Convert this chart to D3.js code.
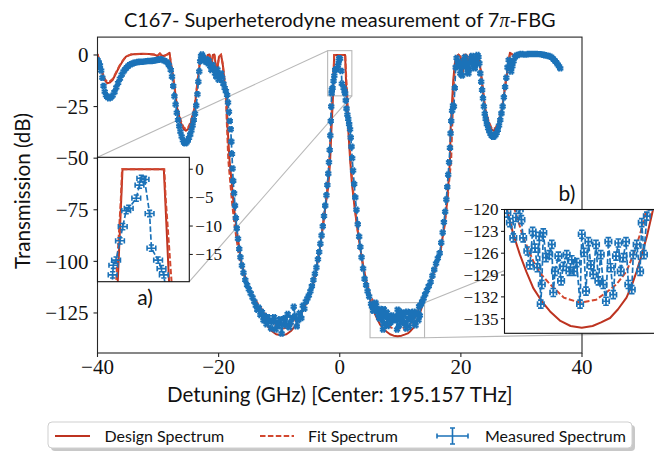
<!DOCTYPE html>
<html><head><meta charset="utf-8">
<script src="https://cdn.jsdelivr.net/npm/d3@7"></script>
<style>body{margin:0;background:#fff}svg{display:block}</style>
</head><body>
<svg id="c" width="654" height="451"></svg>
<script>
// ---------------- DATA ----------------
const design = [
[-40,0.5],[-39.6,-4],[-39.2,-8.9],[-38.8,-12.2],[-38.4,-13.7],[-38.0,-13.4],[-37.5,-12.1],[-37.0,-9.2],[-36.4,-5.7],[-35.8,-2.8],[-35.3,-0.8],[-34.5,0.2],[-33.6,0.5],[-32.5,0.6],[-31.5,0.5],[-30.6,0.2],[-30.1,-0.5],[-29.7,0.8],[-29.4,-0.3],[-29.0,-0.5],[-28.5,0.3],[-28.1,1.1],[-27.9,-4],[-27.6,-9.5],[-27.3,-15.4],[-26.8,-26.6],[-26.2,-33],[-25.8,-35.8],[-25.4,-36.7],[-25.0,-35.8],[-24.6,-33],[-24.0,-26.6],[-23.5,-13.7],[-23.2,-6],[-22.9,0],[-22.5,0.3],[-22.1,-4],[-21.8,0],[-21.5,0.2],[-21.2,-5.7],[-20.95,0],[-20.7,0.2],[-20.3,-8.9],[-19.95,-1],[-19.6,0.2],[-19.3,-5],[-19.0,-13.7],[-18.7,-20],[-18.5,-36],[-18.2,-51],[-17.9,-60],[-17.6,-70],[-17.1,-83],[-16.3,-99.3],[-15.5,-109],[-14.9,-114],[-14.2,-118.5],[-13.5,-122],[-12.8,-126.5],[-12.1,-130.8],[-11.3,-133.6],[-10.5,-135.3],[-9.65,-135.8],[-8.8,-135.3],[-8.0,-133.6],[-7.2,-130.8],[-6.5,-126.5],[-5.8,-122],[-5.0,-117],[-4.5,-111.5],[-3.9,-104],[-3.3,-94],[-2.8,-83],[-2.3,-72],[-1.9,-63.8],[-1.6,-52],[-1.4,-38],[-1.12,-20],[-0.91,0],[0.89,0],[1.12,-20],[1.4,-36],[1.7,-50],[2.0,-62],[2.4,-72.5],[2.8,-82],[3.3,-92],[3.9,-103],[4.5,-111],[4.9,-116.5],[5.17,-120.2],[5.52,-123.4],[5.91,-126.2],[6.3,-128.6],[6.7,-130.8],[7.2,-132.6],[7.69,-134],[8.3,-135.3],[8.9,-136],[9.56,-136.25],[10.2,-136],[10.7,-135.5],[11.23,-134.9],[11.7,-133.7],[12.2,-132.1],[12.5,-130.5],[12.8,-128.5],[13.1,-126.2],[13.4,-123.7],[13.7,-120.7],[13.95,-118],[14.9,-110.6],[15.8,-103],[16.6,-96],[17.2,-84],[17.7,-72],[18.0,-60],[18.2,-51],[18.3,-36.3],[18.5,-25],[18.75,-12.1],[19.0,-4],[19.3,-0.8],[19.6,0.2],[19.95,-1],[20.3,-8.9],[20.7,0.2],[20.95,0],[21.2,-5.7],[21.5,0.2],[21.8,0],[22.1,-4],[22.5,0.3],[22.9,0],[23.2,-6],[23.5,-13.7],[24.0,-26.6],[24.6,-33],[25.0,-35.8],[25.4,-36.7],[25.8,-35.8],[26.2,-33],[26.8,-26.6],[27.3,-15.4],[27.6,-9.5],[27.9,-4],[28.1,1.1],[28.5,0.3],[29.0,-0.5],[29.4,-0.3],[29.7,0.8],[30.1,-0.5],[30.6,0.2],[31.5,0.5],[32.5,0.6],[33.6,0.5],[34.5,0],[35.0,-0.8],[35.6,-3],[36.0,-4.8],[36.5,-6.5]
];
const fit = [
[-40,0.3],[-39.6,-3.6],[-39.2,-8.3],[-38.8,-11.6],[-38.4,-13.1],[-38.0,-12.9],[-37.5,-11.6],[-37.0,-8.8],[-36.4,-5.4],[-35.8,-2.6],[-35.3,-0.7],[-34.5,0.2],[-33.6,0.4],[-32.5,0.5],[-31.5,0.4],[-30.6,0.1],[-30.1,-0.5],[-29.7,0.6],[-29.4,-0.3],[-29.0,-0.4],[-28.5,0.2],[-28.1,0.9],[-27.9,-3.6],[-27.6,-9],[-27.3,-14.8],[-26.8,-25.8],[-26.2,-32.2],[-25.8,-35],[-25.4,-35.9],[-25.0,-35],[-24.6,-32.2],[-24.0,-25.8],[-23.5,-13],[-23.2,-5.5],[-22.9,0],[-22.5,0.2],[-22.1,-3.6],[-21.8,0],[-21.5,0.1],[-21.2,-5.2],[-20.95,0],[-20.7,0.1],[-20.3,-8.2],[-19.95,-0.9],[-19.6,0.1],[-19.3,-4.6],[-19.0,-13],[-18.8,-21],[-18.6,-36],[-18.4,-51],[-18.1,-61],[-17.8,-71],[-17.35,-83],[-16.6,-98],[-15.8,-108],[-15.0,-113.8],[-14.1,-118],[-13.2,-121.8],[-12.3,-125.5],[-11.4,-128.8],[-10.5,-131.2],[-9.6,-132.6],[-8.7,-132.2],[-7.9,-130.6],[-7.1,-128],[-6.3,-124.5],[-5.6,-120.5],[-4.9,-116],[-4.2,-109],[-3.5,-98],[-3.0,-88],[-2.5,-76],[-2.1,-66],[-1.75,-53],[-1.5,-38],[-1.19,-20],[-0.98,-5],[-0.93,0],[0.91,0],[0.97,-5],[1.23,-20],[1.52,-37],[1.8,-52],[2.15,-64],[2.55,-75],[3.05,-87],[3.55,-97],[4.25,-108],[4.95,-115.5],[5.6,-120],[6.1,-123.8],[6.7,-127.1],[7.2,-129],[7.7,-130.3],[8.5,-132.1],[9.46,-132.8],[10.4,-132.4],[11.0,-131.4],[11.6,-130.3],[12.2,-128.5],[12.6,-126.2],[13.0,-123.4],[13.3,-120.7],[13.6,-118.2],[14.2,-114.5],[15.0,-109.5],[15.9,-102],[16.7,-94],[17.3,-83],[17.8,-70],[18.1,-60],[18.4,-51],[18.55,-36],[18.7,-24],[18.85,-13],[19.05,-4],[19.3,-0.6],[19.6,0.1],[19.95,-0.9],[20.3,-8.2],[20.7,0.1],[20.95,0],[21.2,-5.2],[21.5,0.1],[21.8,0],[22.1,-3.6],[22.5,0.2],[22.9,0],[23.2,-5.5],[23.5,-13],[24.0,-25.8],[24.6,-32.2],[25.0,-35],[25.4,-35.9],[25.8,-35],[26.2,-32.2],[26.8,-25.8],[27.3,-14.8],[27.6,-9],[27.9,-3.6],[28.1,0.9],[28.5,0.2],[29.0,-0.4],[29.4,-0.3],[29.7,0.6],[30.1,-0.5],[30.6,0.1],[31.5,0.4],[32.5,0.5],[33.6,0.4],[34.5,0],[35.0,-0.8],[35.6,-2.9],[36.0,-4.7],[36.5,-6.4]
];
const measured = [
[-40.0,-2.5],[-39.8,-3.5],[-39.6,-5],[-39.4,-7.5],[-39.2,-11],[-39.0,-15],[-38.8,-17.8],[-38.6,-19.5],[-38.4,-20.4],[-38.1,-21],[-37.8,-20.6],[-37.5,-19.6],[-37.2,-18],[-36.9,-15.8],[-36.6,-13.6],[-36.3,-11.5],[-36.0,-9.6],[-35.7,-8],[-35.4,-6.8],[-35.1,-5.8],[-34.8,-5],[-34.5,-4.5],[-34.2,-4.1],[-33.9,-3.8],[-33.6,-3.6],[-33.3,-3.4],[-33.0,-3.3],[-32.7,-3.3],[-32.4,-3.2],[-32.1,-3.1],[-31.8,-3.0],[-31.5,-2.9],[-31.2,-2.9],[-30.9,-2.8],[-30.6,-2.7],[-30.3,-2.5],[-30.0,-2.3],[-29.7,-2.1],[-29.4,-2.2],[-29.1,-2.6],[-28.8,-3.0],[-28.5,-3.6],[-28.2,-5],[-27.9,-7.3],[-27.7,-10.5],[-27.5,-15],[-27.3,-20],[-27.1,-24],[-26.9,-28],[-26.7,-31.5],[-26.5,-34.5],[-26.3,-37.2],[-26.1,-39.5],[-25.9,-41.3],[-25.7,-42.5],[-25.5,-42.8],[-25.3,-42.4],[-25.1,-41.5],[-24.9,-40.2],[-24.7,-38.6],[-24.5,-36.6],[-24.3,-34.2],[-24.1,-31.5],[-23.9,-28.5],[-23.7,-24.5],[-23.5,-19],[-23.35,-13],[-23.2,-8],[-23.05,-3],[-22.9,-0.5],[-22.75,0.2],[-22.6,-0.8],[-22.4,-2.4],[-22.2,-3.2],[-22.0,-2],[-21.8,-4],[-21.6,-2.8],[-21.4,-5.5],[-21.2,-7.3],[-21.0,-4.8],[-20.8,-6.5],[-20.6,-9],[-20.4,-10.5],[-20.2,-7],[-20.0,-12],[-19.8,-10],[-19.6,-8.9],[-19.4,-11],[-19.2,-14],[-19.0,-16],[-18.8,-17.5],[-18.6,-19.4],[-18.45,-23],[-18.3,-27.5],[-18.15,-32],[-18.0,-36],[-17.9,-42],[-17.8,-48],[-17.7,-55],[-17.6,-61],[-17.45,-67],[-17.3,-73],[-17.15,-79],[-17.0,-84],[-16.8,-89],[-16.6,-94],[-16.4,-98],[-16.15,-102],[-15.9,-105.5],[-15.6,-109],[-15.3,-111.5],[-15.0,-113.5],[-14.7,-115.5],[-14.4,-117.5],[-14.1,-119.5],[-13.85,-121.5],[-13.6,-123.5],[-13.35,-122.5],[-13.1,-126],[-12.85,-124.5],[-12.6,-128.5],[-12.35,-126.5],[-12.1,-130.5],[-11.85,-127],[-11.6,-129],[-11.35,-132.5],[-11.1,-129.5],[-10.85,-127],[-10.6,-133],[-10.35,-129.5],[-10.1,-131.5],[-9.85,-128],[-9.6,-135],[-9.35,-130.5],[-9.1,-127.5],[-8.85,-131],[-8.6,-125.5],[-8.35,-132],[-8.1,-129.5],[-7.85,-127.5],[-7.6,-122],[-7.35,-126.5],[-7.1,-131.5],[-6.85,-128.5],[-6.6,-125],[-6.35,-127.5],[-6.1,-121.5],[-5.85,-123],[-5.6,-119.5],[-5.35,-118],[-5.1,-116.5],[-4.85,-114.5],[-4.6,-112],[-4.35,-109],[-4.1,-106],[-3.85,-103],[-3.6,-99],[-3.4,-95.5],[-3.2,-91.5],[-3.0,-87.5],[-2.8,-83],[-2.6,-78],[-2.4,-73],[-2.2,-68],[-2.05,-63],[-1.9,-57.5],[-1.78,-52],[-1.66,-46],[-1.56,-39],[-1.48,-32],[-1.41,-25],[-1.34,-18.6],[-1.31,-16.9],[-1.19,-16],[-1.02,-12.6],[-0.9,-10.1],[-0.75,-7.3],[-0.64,-6.9],[-0.31,-5.1],[-0.17,-2.8],[-0.09,-1.6],[0.05,-1.8],[0.27,-7.8],[0.35,-13.9],[0.64,-16],[0.79,-17.5],[0.89,-18.6],[1.0,-22],[1.12,-26],[1.26,-29],[1.4,-31],[1.55,-33.5],[1.7,-36],[1.82,-40],[1.94,-44.4],[2.05,-50],[2.2,-56],[2.38,-62.5],[2.56,-69],[2.76,-75],[2.98,-82],[3.2,-88],[3.4,-93],[3.6,-98],[3.85,-103.5],[4.1,-108.5],[4.35,-111.5],[4.6,-114.5],[4.85,-117],
[5.17,-120.5],[5.32,-121.8],[5.52,-123.9],[5.68,-121.1],[5.9,-120],[6.0,-121.4],[6.1,-123.9],[6.35,-125.7],[6.5,-127.6],[6.66,-123],[6.8,-125.3],[6.94,-128],[7.05,-123.7],[7.14,-133],[7.2,-130.3],[7.29,-123.2],[7.45,-126.6],[7.64,-126.2],[7.79,-124.8],[7.88,-131.4],[7.98,-128.5],[8.18,-126.4],[8.34,-129.8],[8.47,-127.8],[8.67,-126.2],[8.83,-128.5],[8.97,-126.9],[9.1,-128.5],[9.26,-127.3],[9.46,-133],[9.56,-123.4],[9.69,-125.9],[9.81,-131.2],[9.95,-124.4],[10.09,-127.6],[10.24,-128.9],[10.4,-124.8],[10.54,-129.8],[10.68,-126.2],[10.83,-130.3],[10.99,-132.6],[11.13,-124.4],[11.27,-128],[11.42,-131.7],[11.58,-126.4],[11.72,-124.6],[11.86,-128.5],[12.01,-126.6],[12.17,-124.4],[12.31,-130.3],[12.51,-131],[12.6,-126.2],[12.8,-124.8],[13.0,-128.5],[13.1,-121.8],[13.23,-126.2],[13.4,-120.9],
[13.6,-119.5],[13.85,-118],[14.1,-116],[14.4,-114],[14.7,-112],[15.0,-110],[15.3,-107],[15.6,-104],[15.9,-101],[16.2,-98.5],[16.5,-96],[16.75,-91],[17.0,-86],[17.2,-81],[17.4,-76],[17.6,-70],[17.75,-64],[17.9,-58],[18.05,-52],[18.2,-45],[18.3,-38],[18.4,-32],[18.55,-27],[18.7,-24.5],[18.85,-25],[19.0,-16],[19.15,-6],[19.3,-1.5],[19.45,-3],[19.6,-6],[19.75,-4],[19.9,-9],[20.05,-6],[20.2,-10],[20.35,-5],[20.5,-2.5],[20.65,-1],[20.8,-3.5],[20.95,-6],[21.1,-8.5],[21.25,-9],[21.4,-7],[21.55,-4],[21.7,-1.5],[21.85,-0.5],[22.0,-2.5],[22.15,-5],[22.3,-6.5],[22.45,-4],[22.6,-1.5],[22.75,0],[22.9,-1],[23.05,-4],[23.2,-8.9],[23.35,-13],[23.5,-17],[23.65,-21],[23.8,-25],[23.95,-28.5],[24.1,-31],[24.3,-33.5],[24.5,-35.5],[24.7,-37],[24.9,-38.3],[25.1,-39.2],[25.3,-39.6],[25.5,-39.5],[25.7,-38.9],[25.9,-37.8],[26.1,-36.3],[26.3,-34.2],[26.5,-31.5],[26.7,-28.3],[26.9,-25],[27.1,-20.5],[27.3,-15.5],[27.5,-11],[27.7,-6],[27.9,-2.4],[28.1,-4.5],[28.3,-8],[28.5,-5.5],[28.7,-3],[28.9,-1.2],[29.1,-0.4],[29.4,0],[29.7,0.3],[30.0,0.5],[30.3,0.3],[30.6,0.2],[30.9,0.3],[31.2,0.5],[31.5,0.5],[31.8,0.4],[32.1,0.5],[32.4,0.5],[32.7,0.4],[33.0,0.4],[33.3,0.3],[33.6,0.1],[33.9,-0.1],[34.2,-0.3],[34.5,-0.5],[34.8,-0.8],[35.1,-1.5],[35.4,-2.4],[35.7,-3.4],[36.0,-4.6],[36.2,-5.5],[36.4,-6.5]
];
const xErr = 0.19;   // GHz
const yErr = 0.55;   // dB
const xLim = [-40, 40];
const yLim = [-144.4, 8.66];
const xTicks = [-40, -20, 0, 20, 40];
const yTicks = [0, -25, -50, -75, -100, -125];
const insetAX = [-2, 2], insetAY = [-19.8, 2.1];
const insetATicks = [0, -5, -10, -15];
const insetBX = [5, 14], insetBY = [-137, -120];
const insetBTicks = [-120, -123, -126, -129, -132, -135];
const titleText = "C167- Superheterodyne measurement of 7";
const xLabel = "Detuning (GHz) [Center: 195.157 THz]";
const yLabel = "Transmission (dB)";
const legendLabels = ["Design Spectrum", "Fit Spectrum", "Measured Spectrum"];

// ---------------- STYLE ----------------
const C_DES = "#bd3320", C_FIT = "#d2472f", C_MEAS = "#1b72b8", C_GRAY = "#b8b8b8";
const SANS = "Lato, 'DejaVu Sans', sans-serif";
const SERIF = "'Liberation Serif', 'DejaVu Serif', serif";
const fmt = d => d < 0 ? "\u2212" + Math.abs(d) : String(d);

const svg = d3.select("#c");
svg.append("rect").attr("width", 654).attr("height", 451).attr("fill", "#fff");
const defs = svg.append("defs");

const M = {l: 97.5, r: 582, t: 37.1, b: 353};
const x = d3.scaleLinear().domain(xLim).range([M.l, M.r]);
const y = d3.scaleLinear().domain(yLim).range([M.b, M.t]);

const A = {l: 97.5, r: 189.3, t: 157.3, b: 281.7};
const xa = d3.scaleLinear().domain(insetAX).range([A.l, A.r]);
const ya = d3.scaleLinear().domain(insetAY).range([A.b, A.t]);

const B = {l: 504.5, r: 657, t: 209.5, b: 333.3};
const xb = d3.scaleLinear().domain(insetBX).range([B.l, B.r]);
const yb = d3.scaleLinear().domain(insetBY).range([B.b, B.t]);

function clip(id, R) {
  defs.append("clipPath").attr("id", id).append("rect")
    .attr("x", R.l).attr("y", R.t).attr("width", R.r - R.l).attr("height", R.b - R.t);
}
clip("cm", M); clip("ca", A); clip("cb", B);

function errPath(pts, sx, sy, cap) {
  const p = d3.path();
  for (const [a, b] of pts) {
    const x0 = sx(a - xErr), x1 = sx(a + xErr), xc = sx(a), yc = sy(b), y0 = sy(b - yErr), y1 = sy(b + yErr);
    p.moveTo(x0, yc); p.lineTo(x1, yc);
    p.moveTo(x0, yc - cap); p.lineTo(x0, yc + cap);
    p.moveTo(x1, yc - cap); p.lineTo(x1, yc + cap);
    p.moveTo(xc, y0); p.lineTo(xc, y1);
    p.moveTo(xc - cap, y0); p.lineTo(xc + cap, y0);
    p.moveTo(xc - cap, y1); p.lineTo(xc + cap, y1);
  }
  return p.toString();
}

function drawData(g, sx, sy, cap, ew) {
  const line = d3.line().x(d => sx(d[0])).y(d => sy(d[1]));
  g.append("path").attr("d", line(design)).attr("fill", "none").attr("stroke", C_DES).attr("stroke-width", 2).attr("stroke-linejoin", "round");
  g.append("path").attr("d", line(fit)).attr("fill", "none").attr("stroke", C_FIT).attr("stroke-width", 2).attr("stroke-dasharray", "5.5,2.4");
  g.append("path").attr("d", line(measured)).attr("fill", "none").attr("stroke", C_MEAS).attr("stroke-width", 1.7).attr("stroke-dasharray", "5.5,2.4");
  g.append("path").attr("d", errPath(measured, sx, sy, cap)).attr("fill", "none").attr("stroke", C_MEAS).attr("stroke-width", ew);
}

// ---------------- MAIN AXES ----------------
const gm = svg.append("g");
const gz = gm.append("g").attr("stroke", C_GRAY).attr("stroke-width", 1.1).attr("fill", "none");
gz.append("rect").attr("x", x(insetAX[0])).attr("y", y(insetAY[1])).attr("width", x(insetAX[1]) - x(insetAX[0])).attr("height", y(insetAY[0]) - y(insetAY[1]));
gz.append("line").attr("x1", A.l).attr("y1", A.t).attr("x2", x(insetAX[0])).attr("y2", y(insetAY[1]));
gz.append("line").attr("x1", A.r).attr("y1", A.b).attr("x2", x(insetAX[1])).attr("y2", y(insetAY[0]));
gz.append("rect").attr("x", x(insetBX[0])).attr("y", y(insetBY[1])).attr("width", x(insetBX[1]) - x(insetBX[0])).attr("height", y(insetBY[0]) - y(insetBY[1]));
gz.append("line").attr("x1", x(insetBX[1])).attr("y1", y(insetBY[1])).attr("x2", B.r).attr("y2", B.t);
gz.append("line").attr("x1", x(insetBX[1])).attr("y1", y(insetBY[0])).attr("x2", B.r).attr("y2", B.b);

drawData(gm.append("g").attr("clip-path", "url(#cm)"), x, y, 3.2, 1.8);

gm.append("rect").attr("x", M.l).attr("y", M.t).attr("width", M.r - M.l).attr("height", M.b - M.t)
  .attr("fill", "none").attr("stroke", "#262626").attr("stroke-width", 1.1);
const gxt = gm.append("g");
xTicks.forEach(t => {
  gxt.append("line").attr("x1", x(t)).attr("x2", x(t)).attr("y1", M.b).attr("y2", M.b + 4).attr("stroke", "#262626").attr("stroke-width", 1.1);
  gxt.append("text").attr("x", x(t)).attr("y", M.b + 21).attr("text-anchor", "middle")
    .attr("font-family", SERIF).attr("font-size", 21).attr("fill", "#111").text(fmt(t));
});
yTicks.forEach(t => {
  gxt.append("line").attr("x1", M.l - 4).attr("x2", M.l).attr("y1", y(t)).attr("y2", y(t)).attr("stroke", "#262626").attr("stroke-width", 1.1);
  gxt.append("text").attr("x", M.l - 9).attr("y", y(t)).attr("dy", "0.34em").attr("text-anchor", "end")
    .attr("font-family", SERIF).attr("font-size", 21).attr("fill", "#111").text(fmt(t));
});

// ---------------- INSET A ----------------
const ga = svg.append("g");
ga.append("rect").attr("x", A.l).attr("y", A.t).attr("width", A.r - A.l).attr("height", A.b - A.t).attr("fill", "#fff");
drawData(ga.append("g").attr("clip-path", "url(#ca)"), xa, ya, 2.6, 1.6);
ga.append("rect").attr("x", A.l).attr("y", A.t).attr("width", A.r - A.l).attr("height", A.b - A.t)
  .attr("fill", "none").attr("stroke", "#111").attr("stroke-width", 1.1);
insetATicks.forEach(t => {
  ga.append("line").attr("x1", A.r).attr("x2", A.r + 3.5).attr("y1", ya(t)).attr("y2", ya(t)).attr("stroke", "#111");
  ga.append("text").attr("x", A.r + 6).attr("y", ya(t)).attr("dy", "0.34em").attr("text-anchor", "start")
    .attr("font-family", SERIF).attr("font-size", 17).attr("fill", "#111").text(fmt(t));
});

// ---------------- INSET B ----------------
const gb = svg.append("g");
gb.append("rect").attr("x", B.l).attr("y", B.t).attr("width", B.r - B.l).attr("height", B.b - B.t).attr("fill", "#fff");
drawData(gb.append("g").attr("clip-path", "url(#cb)"), xb, yb, 2.8, 1.7);
gb.append("rect").attr("x", B.l).attr("y", B.t).attr("width", B.r - B.l).attr("height", B.b - B.t)
  .attr("fill", "none").attr("stroke", "#111").attr("stroke-width", 1.1);
insetBTicks.forEach(t => {
  gb.append("line").attr("x1", B.l - 3.5).attr("x2", B.l).attr("y1", yb(t)).attr("y2", yb(t)).attr("stroke", "#111");
  gb.append("text").attr("x", B.l - 6).attr("y", yb(t)).attr("dy", "0.34em").attr("text-anchor", "end")
    .attr("font-family", SERIF).attr("font-size", 17).attr("fill", "#111").text(fmt(t));
});

// ---------------- TEXTS ----------------
function fitText(sel, target) {
  const w = sel.node().getComputedTextLength();
  const fs = parseFloat(sel.attr("font-size"));
  const nf = fs * target / w;
  sel.attr("font-size", nf);
  return nf;
}
const title = svg.append("text").attr("x", (M.l + M.r) / 2).attr("y", 27).attr("text-anchor", "middle")
  .attr("font-family", SANS).attr("font-size", 19).attr("fill", "#111");
title.append("tspan").text(titleText);
title.append("tspan").attr("font-family", SERIF).attr("font-style", "italic").text("\u03c0");
title.append("tspan").text("-FBG");
fitText(title, 432);

const xl = svg.append("text").attr("x", (M.l + M.r) / 2).attr("y", 402).attr("text-anchor", "middle")
  .attr("font-family", SANS).attr("font-size", 19).attr("fill", "#111").text(xLabel);
fitText(xl, 346);

const yl = svg.append("text").attr("transform", "translate(30,191) rotate(-90)").attr("text-anchor", "middle")
  .attr("font-family", SANS).attr("font-size", 19).attr("fill", "#111").text(yLabel);
fitText(yl, 156);

svg.append("text").attr("x", 145).attr("y", 305).attr("text-anchor", "middle")
  .attr("font-family", SANS).attr("font-size", 21).attr("fill", "#111").text("a)");
svg.append("text").attr("x", 567).attr("y", 201).attr("text-anchor", "middle")
  .attr("font-family", SANS).attr("font-size", 21).attr("fill", "#111").text("b)");

// ---------------- LEGEND ----------------
const L = {x: 48, y: 422, w: 584, h: 26};
const gl = svg.append("g");
gl.append("rect").attr("x", L.x + 3).attr("y", L.y + 3).attr("width", L.w).attr("height", L.h).attr("rx", 4)
  .attr("fill", "#9a9a9a").attr("opacity", 0.55);
gl.append("rect").attr("x", L.x).attr("y", L.y).attr("width", L.w).attr("height", L.h).attr("rx", 4)
  .attr("fill", "#fff").attr("stroke", "#cfcfcf").attr("stroke-width", 1);
const hy = L.y + 14;
gl.append("line").attr("x1", 55).attr("x2", 90).attr("y1", hy).attr("y2", hy).attr("stroke", C_DES).attr("stroke-width", 2);
gl.append("line").attr("x1", 260).attr("x2", 294).attr("y1", hy).attr("y2", hy).attr("stroke", C_FIT).attr("stroke-width", 2).attr("stroke-dasharray", "5.5,2.4");
const ex0 = 437, ex1 = 468, exm = (ex0 + ex1) / 2;
const ep = d3.path();
ep.moveTo(ex0, hy); ep.lineTo(ex1, hy);
ep.moveTo(ex0, hy - 2.5); ep.lineTo(ex0, hy + 2.5);
ep.moveTo(ex1, hy - 2.5); ep.lineTo(ex1, hy + 2.5);
ep.moveTo(exm, hy - 8); ep.lineTo(exm, hy + 8);
ep.moveTo(exm - 2.5, hy - 8); ep.lineTo(exm + 2.5, hy - 8);
ep.moveTo(exm - 2.5, hy + 8); ep.lineTo(exm + 2.5, hy + 8);
gl.append("path").attr("d", ep.toString()).attr("fill", "none").attr("stroke", C_MEAS).attr("stroke-width", 1.6);
const lx = [104.5, 308, 485];
const lt = legendLabels.map((s, i) => gl.append("text").attr("x", lx[i]).attr("y", hy + 5.5)
  .attr("font-family", SANS).attr("font-size", 16).attr("fill", "#111").text(s));
const lfs = fitText(lt[2], 141);
lt.forEach(t => t.attr("font-size", lfs));
</script>
</body></html>
